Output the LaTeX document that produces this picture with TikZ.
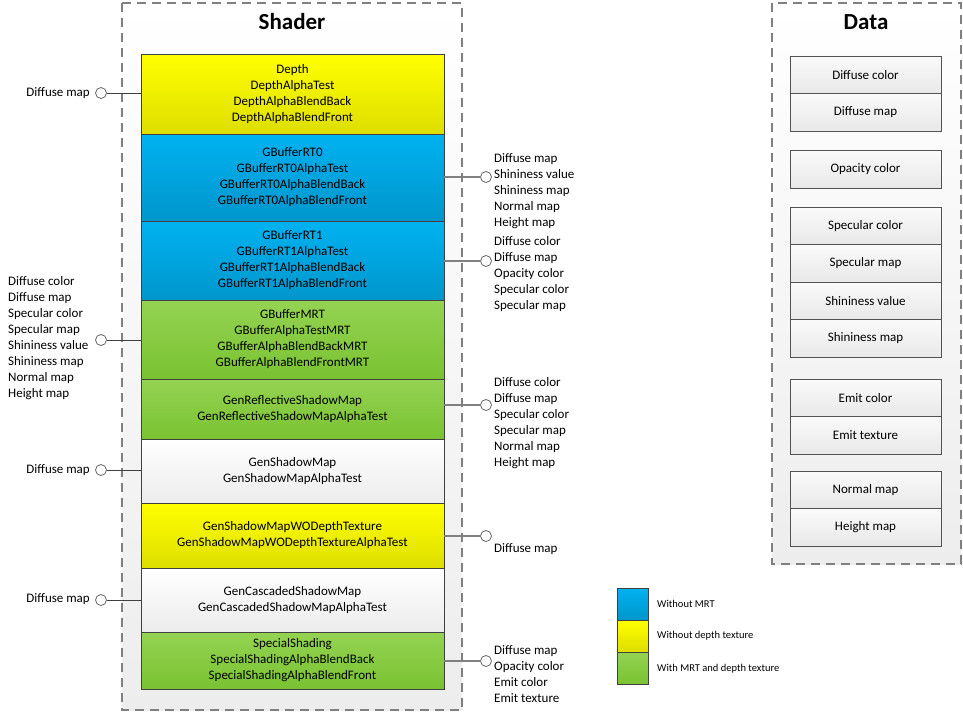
\documentclass[tikz,border=0pt]{standalone}
\usepackage{fontspec}
\setmainfont{Carlito}
\usetikzlibrary{calc}
\definecolor{yelA}{HTML}{FFFF00}
\definecolor{yelB}{HTML}{DEDE00}
\definecolor{bluA}{HTML}{00B2F0}
\definecolor{bluB}{HTML}{0096CC}
\definecolor{grnA}{HTML}{94D352}
\definecolor{grnB}{HTML}{7AC232}
\definecolor{whtA}{HTML}{FFFFFF}
\definecolor{whtB}{HTML}{ECECEC}
\definecolor{datA}{HTML}{FAFAFA}
\definecolor{datB}{HTML}{E8E8E8}
\definecolor{boxline}{HTML}{404040}
\definecolor{dashline}{HTML}{808080}
\definecolor{connR}{HTML}{808080}
\definecolor{connL}{HTML}{404040}
\begin{document}
\begin{tikzpicture}[x=1pt,y=-1pt,
  container/.style={draw=dashline, line width=1.3pt, dash pattern=on 9pt off 6pt, top color=white, bottom color=black!7},
  title/.style={font=\fontsize{23}{27}\selectfont\bfseries},
  sbox/.style={draw=boxline, line width=0.8pt, minimum width=303pt, inner sep=0pt, align=center, font=\fontsize{13}{16}\selectfont},
  yelbox/.style={sbox, top color=yelA, bottom color=yelB},
  blubox/.style={sbox, top color=bluA, bottom color=bluB},
  grnbox/.style={sbox, top color=grnA, bottom color=grnB},
  whtbox/.style={sbox, top color=whtA, bottom color=whtB},
  dbox/.style={draw=boxline!90, line width=0.8pt, minimum width=151pt, minimum height=37.5pt, inner sep=0pt, top color=datA, bottom color=datB, font=\fontsize{13}{16}\selectfont},
  port/.style={circle, draw=boxline!80, line width=0.8pt, fill=white, minimum size=11pt, inner sep=0pt},
  lconn/.style={draw=connL, line width=0.9pt},
  rconn/.style={draw=connR, line width=1.3pt},
  lbl/.style={inner sep=0pt, align=left, font=\fontsize{13}{16}\selectfont},
  legbox/.style={draw=boxline, line width=0.8pt, minimum width=31pt, minimum height=32pt, inner sep=0pt},
  leglbl/.style={inner sep=0pt, anchor=west, font=\fontsize{10.5}{12}\selectfont}
]
\useasboundingbox (0,0) rectangle (963,713);

% containers
\path[container] (122,3) rectangle (462,710);
\node[title] (shadertitle) at (292,22) {Shader};
\path[container] (772,3) rectangle (961,564);
\node[title] (datatitle) at (866,22) {Data};

% shader boxes
\node[yelbox, minimum height=80pt] (depth) at (292.5,94) {Depth\\DepthAlphaTest\\DepthAlphaBlendBack\\DepthAlphaBlendFront};
\node[blubox, minimum height=87pt] (rt0) at (292.5,177.5) {GBufferRT0\\GBufferRT0AlphaTest\\GBufferRT0AlphaBlendBack\\GBufferRT0AlphaBlendFront};
\node[blubox, minimum height=79pt] (rt1) at (292.5,260.5) {GBufferRT1\\GBufferRT1AlphaTest\\GBufferRT1AlphaBlendBack\\GBufferRT1AlphaBlendFront};
\node[grnbox, minimum height=79pt] (mrt) at (292.5,339.5) {GBufferMRT\\GBufferAlphaTestMRT\\GBufferAlphaBlendBackMRT\\GBufferAlphaBlendFrontMRT};
\node[grnbox, minimum height=60pt] (refl) at (292.5,409) {GenReflectiveShadowMap\\GenReflectiveShadowMapAlphaTest};
\node[whtbox, minimum height=64pt] (shadow) at (292.5,471) {GenShadowMap\\GenShadowMapAlphaTest};
\node[yelbox, minimum height=65pt] (wo) at (292.5,535.5) {GenShadowMapWODepthTexture\\GenShadowMapWODepthTextureAlphaTest};
\node[whtbox, minimum height=64pt] (casc) at (292.5,600) {GenCascadedShadowMap\\GenCascadedShadowMapAlphaTest};
\node[grnbox, minimum height=57pt] (spec) at (292.5,660.5) {SpecialShading\\SpecialShadingAlphaBlendBack\\SpecialShadingAlphaBlendFront};

% left ports
\node[port] (pl1) at (101,93) {};
\node[port] (pl2) at (101,340) {};
\node[port] (pl3) at (101,470) {};
\node[port] (pl4) at (101,600) {};
\draw[lconn] (pl1) -- (pl1 -| depth.west);
\draw[lconn] (pl2) -- (pl2 -| mrt.west);
\draw[lconn] (pl3) -- (pl3 -| shadow.west);
\draw[lconn] (pl4) -- (pl4 -| casc.west);
\node[lbl, anchor=east] (tl1) at (90,93) {Diffuse map};
\node[lbl, anchor=west] (tl2) at (8,338) {Diffuse color\\Diffuse map\\Specular color\\Specular map\\Shininess value\\Shininess map\\Normal map\\Height map};
\node[lbl, anchor=east] (tl3) at (90,470) {Diffuse map};
\node[lbl, anchor=east] (tl4) at (90,599) {Diffuse map};

% right ports
\node[port] (pr1) at (486,177) {};
\node[port] (pr2) at (486,261) {};
\node[port] (pr3) at (486,405) {};
\node[port] (pr4) at (486,536) {};
\node[port] (pr5) at (486,661) {};
\draw[rconn] (pr1) -- (pr1 -| rt0.east);
\draw[rconn] (pr2) -- (pr2 -| rt1.east);
\draw[rconn] (pr3) -- (pr3 -| refl.east);
\draw[rconn] (pr4) -- (pr4 -| wo.east);
\draw[rconn] (pr5) -- (pr5 -| spec.east);
\node[lbl, anchor=west] (tr1) at (494,191) {Diffuse map\\Shininess value\\Shininess map\\Normal map\\Height map};
\node[lbl, anchor=west] (tr2) at (494,274) {Diffuse color\\Diffuse map\\Opacity color\\Specular color\\Specular map};
\node[lbl, anchor=west] (tr3) at (494,423) {Diffuse color\\Diffuse map\\Specular color\\Specular map\\Normal map\\Height map};
\node[lbl, anchor=west] (tr4) at (494,549) {Diffuse map};
\node[lbl, anchor=west] (tr5) at (494,674) {Diffuse map\\Opacity color\\Emit color\\Emit texture};

% legend
\node[legbox, top color=bluA, bottom color=bluB] (lgb) at (632.5,604) {};
\node[legbox, top color=yelA, bottom color=yelB] (lgy) at (632.5,636) {};
\node[legbox, top color=grnA, bottom color=grnB] (lgg) at (632.5,668) {};
\node[leglbl] (lgbt) at (657,604) {Without MRT};
\node[leglbl] (lgyt) at (657,636) {Without depth texture};
\node[leglbl] (lggt) at (657,669) {With MRT and depth texture};

% data boxes
\node[dbox] (d1) at (865.5,75) {Diffuse color};
\node[dbox] (d2) at (865.5,112.5) {Diffuse map};
\node[dbox] (d3) at (865.5,169.5) {Opacity color};
\node[dbox] (d4) at (865.5,226) {Specular color};
\node[dbox] (d5) at (865.5,263.5) {Specular map};
\node[dbox] (d6) at (865.5,301) {Shininess value};
\node[dbox] (d7) at (865.5,338.5) {Shininess map};
\node[dbox] (d8) at (865.5,398) {Emit color};
\node[dbox] (d9) at (865.5,435.5) {Emit texture};
\node[dbox] (d10) at (865.5,490) {Normal map};
\node[dbox] (d11) at (865.5,527.5) {Height map};
\end{tikzpicture}
\end{document}
